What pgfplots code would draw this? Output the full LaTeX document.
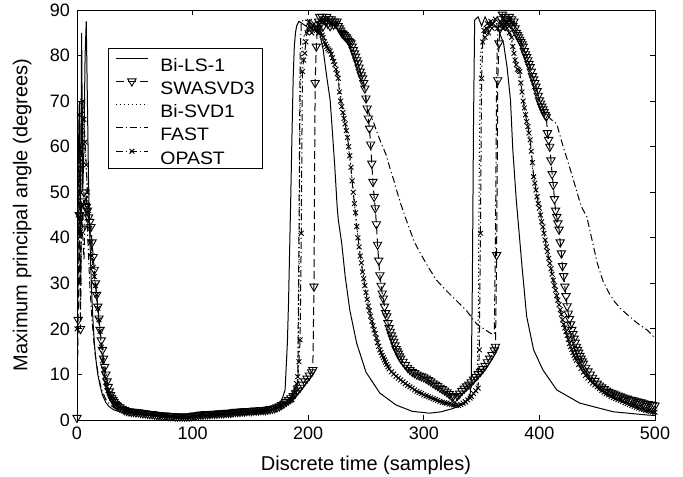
\documentclass[border=0pt]{standalone}
\usepackage{fontspec}
\setmainfont{Liberation Sans}
\usepackage{graphicx}
\usepackage{pgfplots}
\pgfplotsset{compat=1.18}
\newcommand{\legtxt}[1]{\scalebox{1.08}[1]{#1}}
\begin{document}
\begin{tikzpicture}
\useasboundingbox (-38.5pt,-28pt) rectangle (303pt,210pt);
\begin{axis}[
  at={(0,0)}, anchor=south west,
  scale only axis, width=289pt, height=205pt,
  xmin=0, xmax=500, ymin=0, ymax=90,
  xtick={0,100,...,500}, ytick={0,10,...,90},
  tick align=inside, major tick length=2.5pt,
  tick style={line width=0.4pt, black},
  axis line style={line width=0.5pt},
  /pgf/number format/assume math mode=true,
  tick label style={font=\fontsize{9}{10}\selectfont},
  label style={font=\fontsize{10}{12}\selectfont},
  xlabel={Discrete time (samples)},
  ylabel={Maximum principal angle (degrees)},
  xlabel style={at={(axis description cs:0.5,-0.11)}, anchor=center},
  ylabel style={at={(axis description cs:-0.095,0.5)}, anchor=center},
  legend cell align=left,
  legend style={at={(axis description cs:0.0536,0.9085)}, anchor=north west,
    font=\fontsize{9}{9}\selectfont, draw=black, line width=0.4pt,
    nodes={inner ysep=0pt, inner xsep=0.5pt, text height=6.6pt, text depth=0pt},
    row sep=2.1pt, inner xsep=3.5pt, inner ysep=2pt},
  legend image code/.code={\path (0pt,0pt) (21.5pt,6pt);
     \draw[#1] (0pt,3.2pt) -- (16pt,3.2pt);
     \draw[#1, only marks] plot coordinates {(8pt,3.2pt)};},
]
% Bi-LS-1
\addplot[black, line width=0.5pt, mark=none] coordinates {
(0,30) (1,55) (2,70) (3,40) (4,85) (5,50) (6,60) (7,80) (8,87.5) (9,70) (10,52) (11,41) (12,33) (13,26) (14,21) (15,17) (16,14) (18,10) (20,7.5) (22,5.5) (25,3.8) (28,2.9) (32,2.2) (40,1.6) (50,1.2) (60,1.0) (80,0.8) (100,0.8) (120,1.2) (140,1.4) (160,1.8) (170,2.3) (175,3.5) (178,5) (180,6.6) (182,17) (183,26) (184,38) (185,50) (186,63) (187,75) (188,82) (189,85) (190,86.5) (192,87.5) (195,87) (198,86.5) (200,87) (203,86) (206,85.5) (208,85) (210,84.8) (213,81.2) (216,75.4) (219,70.2) (221,63) (223,55.6) (225,47) (226,44) (229,38.8) (232,31.5) (236,24.1) (242,16.8) (250,10.5) (262,5.9) (276,3.3) (290,1.9) (305,1.5) (315,1.8) (325,2.5) (335,3.5) (340,5.5) (341,8) (342,30) (343,65) (344,87.8) (347,88.5) (350,86.5) (353,88.5) (356,87) (360,86.5) (364,86) (367,84) (369,82.7) (372,77.5) (375,70.2) (377,59.3) (380,48.3) (385,33.6) (389,22.7) (395,15.4) (403,11) (415,6.6) (435,3.7) (464,1.8) (493,1.1) (500,1.0)
};
\addlegendentry{\legtxt{Bi-LS-1}}
% SWASVD3
\addplot[black, line width=0.5pt, dash pattern=on 4pt off 2pt, mark=triangle, mark size=2.4pt, mark options={solid, rotate=180, line width=0.45pt}] coordinates {
(0,0.5) (1,22) (2,45) (3,20) (4,48) (5,42) (6,50) (7,47) (8,46.8) (9,46) (10,44.5) (11,43.5) (12,42.4) (13,39) (14,35.8) (15,33) (16,30) (17,27.5) (18,24.9) (19,22.3) (20,19.8) (21,17.5) (22,15.4) (23,13.5) (24,11.7) (25,10) (26,8.5) (27,7.3) (28,6.3) (29,5.5) (30,4.9) (31,4.4) (32,4) (33,3.6) (34,3.3) (35,3.1) (37,2.8) (39,2.5) (41,2.2) (43,2.0)
(45,1.9) (47,1.8) (49,1.8) (51,1.7) (53,1.7) (55,1.6) (57,1.5) (59,1.5) (61,1.4) (63,1.3) (65,1.3) (67,1.2) (69,1.1) (71,1.1) (73,1.0) (75,1.0) (77,1.0) (79,0.9) (81,0.9) (83,0.9) (85,0.8) (87,0.8) (89,0.8) (91,0.8) (93,0.8) (95,0.8) (97,0.8) (99,0.9) (101,1.0) (103,1.0) (105,1.1) (107,1.2) (109,1.2) (111,1.3) (113,1.3) (115,1.3) (117,1.4) (119,1.4) (121,1.4) (123,1.5) (125,1.5) (127,1.5) (129,1.6) (131,1.6) (133,1.6) (135,1.7) (137,1.8) (139,1.8) (141,1.8) (143,1.9) (145,1.9) (147,2.0) (149,2.0) (151,2.0) (153,2.1) (155,2.1) (157,2.1) (159,2.2) (161,2.2) (163,2.2) (165,2.3) (167,2.4) (169,2.5) (171,2.6) (173,2.8) (175,3.0) (177,3.3) (179,3.6) (181,4.0) (183,4.4) (185,4.8) (187,5.3) (189,5.9) (191,6.5) (193,7.1) (195,7.8) (197,8.5) (199,9.1) (201,9.8) (203,10.5) (204,11)
(205,29.3) (206,74) (207,82) (208,86) (209,87.5) (210,88.5) (211,87) (212,88.5) (213,86.5) (214,88) (215,87.5) (216,88.5) (217,87) (218,88) (219,86.5) (220,88) (221,87.5) (222,86.8) (223,87.5) (224,87) (225,87.5) (226,86.5) (227,86) (228,85.5) (229,85) (230,84.8) (231,84.5) (232,84.2) (233,84) (234,83.6) (235,83.2) (236,83) (237,82.7) (238,82) (239,81.2) (240,80.5) (241,79.8) (242,79) (243,78.3) (244,77.4) (245,76.5) (246,75.7) (247,75) (248,74) (249,72.8) (250,70.6) (251,68.4) (252,66.2) (253,64) (254,60.5) (255,56.3) (256,52.3) (257,49) (258,46.5) (259,43) (260,38.5) (261,35) (262,31.8) (263,29.5) (264,27.8) (265,26.7) (266,24.9) (267,23.5) (268,22.8) (269,21.3) (270,20.2) (271,19.4) (272,18.6) (273,17.9) (274,17.2) (275,16.4) (276,15.6) (277,15.1) (278,14.6) (279,14) (280,13.5) (282,12.8) (284,12.1) (286,11.5) (288,11) (290,10.6) (292,10.3) (294,10) (296,9.8) (298,9.6) (300,9.4) (302,9.1) (304,8.8) (306,8.5) (308,8.1) (310,7.8) (312,7.5) (314,7.1) (316,6.8) (318,6.5) (320,6.1) (322,5.7) (324,5.3) (325,5.1) (327,4.8) (329,5.3) (331,5.8) (333,6.4) (335,6.9) (337,7.4) (339,7.8) (341,8.3) (343,8.9) (345,9.5) (347,10.1) (349,10.6) (351,11.2) (353,11.9) (355,12.7) (357,13.5) (359,14.3) (361,15.3) (362,16.1)
(363,36.2) (364,74.6) (365,82.7) (366,86) (367,88) (368,89) (369,87) (370,88.5) (371,86.5) (372,88) (373,87.5) (374,88.5) (375,87) (376,88) (377,86.5) (378,87.5) (379,86) (380,85) (381,84.5) (382,84) (383,83.5) (384,83) (385,82.5) (386,82) (387,81) (388,80.3) (389,79.7) (390,79) (391,78.2) (392,77.5) (393,76.5) (394,75.5) (395,74.8) (396,74) (397,73.2) (398,72.2) (399,71.2) (400,70.2) (401,69.5) (402,68.8) (403,68.2) (404,67.6) (405,67) (406,66.6) (407,63) (408,61.5) (409,60) (410,57) (411,54) (412,51.6) (413,48.5) (414,46) (415,44.6) (416,43.2) (417,41.8) (418,39) (419,36.6) (420,33.8) (421,31.6) (422,29.3) (423,27.2) (424,25) (425,23.4) (426,22.2) (427,21) (428,19.8) (429,18.9) (430,17.9) (431,17) (432,16.1) (433,15.4) (434,14.8) (435,14.1) (436,13.5) (437,12.9) (438,12.4) (440,11.5) (442,10.7) (444,10) (446,9.3) (448,8.6) (450,8) (452,7.6) (454,7.2) (456,6.8) (458,6.5) (460,6.2) (462,6) (464,5.8) (466,5.6) (468,5.4) (470,5.2) (472,5.0) (474,4.8) (476,4.7) (478,4.5) (480,4.4) (482,4.3) (484,4.1) (486,4.0) (488,3.9) (490,3.7) (492,3.6) (494,3.5) (496,3.4) (498,3.3) (500,3.2)
};
\addlegendentry{\legtxt{SWASVD3}}
% Bi-SVD1
\addplot[black, line width=0.5pt, dash pattern=on 0.6pt off 1.4pt, mark=none] coordinates {
(0,15) (1,40) (2,60) (3,45) (4,65) (5,68) (6,62) (8,55) (10,45) (12,38) (14,33) (16,29) (18,24) (20,19) (22,13.5) (24,9.8) (27,6.8) (30,5) (35,3.3) (40,2.5) (50,1.8) (70,1.3) (100,1.0) (130,1.3) (160,1.9) (175,2.6) (185,4.3) (190,7.5) (191,9) (192,30) (193,70) (194,80) (196,84) (200,86.5) (205,87) (210,85.5) (214,83.5) (218,81.3) (222,78.7) (226,75) (230,67.5) (234,62) (238,52.5) (242,42.5) (246,34.5) (250,28) (254,22.8) (258,19) (262,15.4) (270,11.2) (280,8.8) (290,7) (300,5.5) (310,4.5) (320,3.7) (330,3.1) (338,4.3) (344,6.1) (346,6.8) (347,20) (348,55) (349,80) (352,85) (360,87) (370,87) (375,84.5) (380,78) (385,72) (390,64.4) (395,53.4) (400,46.5) (405,39.5) (410,33.2) (415,27.3) (420,22) (425,17.7) (430,14.2) (440,9.8) (450,7.3) (460,5.5) (470,4.3) (480,3.2) (490,2.2) (500,1.7)
};
\addlegendentry{\legtxt{Bi-SVD1}}
% FAST
\addplot[black, line width=0.5pt, dash pattern=on 3.5pt off 1.5pt on 0.6pt off 1.5pt, mark=none] coordinates {
(0,0) (1,38) (2,55) (3,25) (4,45) (5,40) (6,35) (7,45) (8,50) (9,42) (10,36) (11,30) (12,26) (13,22) (14,19) (15,16) (16,14) (18,10.5) (20,8) (22,6.2) (25,4.5) (28,3.5) (32,2.7) (36,2.2) (40,1.9) (50,1.5) (60,1.3) (80,1.0) (100,0.9) (120,1.2) (140,1.5) (160,1.9) (170,2.3) (180,3.5) (185,5) (188,6.5) (191,8.5) (192,40) (193,80) (194,87) (196,88) (200,87.5) (205,88) (210,87) (215,88) (220,87) (225,86) (230,84.5) (235,83) (240,80.5) (245,76.5) (248,74) (250,70) (253,67) (256,65.8) (259,63.5) (262,61.5) (265,59.7) (268,57.8) (271,55) (274,52.7) (277,50) (279,48.3) (282,46) (285,43.8) (288,41.7) (292,39) (297,36.6) (304,33.5) (311,30.7) (318,28.8) (325,27) (331,25.5) (337,24) (342,22.3) (346,21) (352,20) (358,19) (361,18.8) (362,40) (363,75) (364,86) (366,88) (370,87.5) (375,88) (380,86) (385,82.5) (390,79) (395,74.8) (400,70.5) (405,67.5) (410,66) (415,65) (420,60.5) (426,55.6) (432,50.5) (436,47) (441,44.6) (446,39) (450,34.5) (455,30.5) (460,28) (465,26) (470,24.5) (478,22.7) (485,21.2) (493,19.8) (500,18)
};
\addlegendentry{\legtxt{FAST}}
% OPAST
\addplot[black, line width=0.5pt, dash pattern=on 3.5pt off 1.5pt on 0.6pt off 1.5pt, mark=x, mark size=1.7pt, mark options={solid, line width=0.45pt}] coordinates {
(0,20) (1,45) (2,67) (3,50) (4,60) (5,70) (6,66) (7,61) (8,56) (9,50) (10,46) (11,42) (12,39) (13,36) (14,33.5) (15,31.5) (16,29.5) (17,27.5) (18,24.5) (19,22) (20,19.5) (21,16) (22,13) (23,11) (24,9.5) (25,8.3) (26,7.3) (27,6.5) (28,5.9) (29,5.3) (30,4.8) (31,4.4) (32,4) (33,3.7) (34,3.4) (35,3.2) (37,2.9) (39,2.6) (41,2.4) (43,2.2)
(45,2.0) (47,1.9) (49,1.9) (51,1.8) (53,1.8) (55,1.7) (57,1.6) (59,1.6) (61,1.5) (63,1.4) (65,1.4) (67,1.3) (69,1.2) (71,1.2) (73,1.1) (75,1.0) (77,1.0) (79,1.0) (81,0.9) (83,0.9) (85,0.9) (87,0.8) (89,0.8) (91,0.8) (93,0.7) (95,0.7) (97,0.7) (99,0.8) (101,0.9) (103,0.9) (105,1.0) (107,1.1) (109,1.1) (111,1.1) (113,1.2) (115,1.2) (117,1.2) (119,1.3) (121,1.3) (123,1.3) (125,1.4) (127,1.4) (129,1.4) (131,1.5) (133,1.5) (135,1.5) (137,1.6) (139,1.6) (141,1.6) (143,1.7) (145,1.7) (147,1.7) (149,1.8) (151,1.8) (153,1.8) (155,1.9) (157,1.9) (159,1.9) (161,2.0) (163,2.0) (165,2.1) (167,2.2) (169,2.4) (171,2.5) (173,2.7) (175,2.9) (177,3.2) (179,3.5) (181,3.7) (183,4.0) (185,4.3) (186,4.5) (187,5.2) (188,6) (189,7) (190,8)
(191,9.5) (192,12.8) (193,17.6) (194,41) (195,76.5) (196,79) (197,80.5) (198,83) (199,85) (200,86) (201,87.5) (202,86) (203,85) (204,86.5) (205,87) (206,86) (207,85.5) (208,86) (209,85) (210,86) (211,85) (212,84.5) (213,84) (214,83) (215,82.5) (216,82) (217,81.5) (218,81.2) (219,81) (220,80.3) (221,79.5) (222,78.7) (223,78) (224,77) (225,76) (226,75) (227,72) (228,70) (229,68.8) (230,67.5) (231,66.2) (232,65) (233,63.5) (234,62) (235,60) (236,58) (237,55.5) (238,52.5) (239,50) (240,47.5) (241,45.5) (242,42.5) (243,40) (244,38) (245,36) (246,34.5) (247,32.5) (248,31) (249,29.5) (250,28) (251,26.5) (252,25) (253,24) (254,22.8) (255,21.7) (256,20.7) (257,19.8) (258,19) (259,18) (260,17) (261,16.2) (262,15.4) (263,14.8) (264,14.2) (265,13.7) (266,13.2) (267,12.7) (268,12.2) (269,11.7) (270,11.2) (272,10.6) (274,10.1) (276,9.6) (278,9.2) (280,8.8) (282,8.4) (284,8) (286,7.6) (288,7.3) (290,7) (292,6.6) (294,6.3) (296,6) (298,5.8) (300,5.5) (302,5.3) (304,5.1) (306,4.9) (308,4.7) (310,4.5) (312,4.3) (314,4.1) (316,3.9) (318,3.8) (320,3.7) (322,3.5) (324,3.4) (326,3.3) (328,3.2) (330,3.2) (332,3.4) (334,3.7) (336,4.0) (338,4.4) (340,4.8) (341,5.2) (343,5.8) (345,6.4) (347,7)
(348,15.4) (349,41) (350,75) (351,83) (352,85.5) (353,84) (354,86) (355,87) (356,85) (357,86.5) (358,87.5) (359,86) (360,87) (362,88) (364,86) (366,87.5) (368,86) (370,87) (372,86) (374,85) (376,84) (377,82) (378,80.5) (379,79) (380,78) (381,77) (382,76.8) (383,76.5) (384,74) (385,72) (386,70) (387,68.5) (388,67) (389,65.5) (390,64.4) (391,63) (392,61.5) (393,59) (394,56.5) (395,53.4) (396,52) (397,50.5) (398,49) (399,47.5) (400,46.5) (401,45) (402,43.5) (403,42.4) (404,41) (405,39.5) (406,38) (407,37) (408,35.5) (409,34.4) (410,33.2) (411,32) (412,30.7) (413,29.5) (414,28.5) (415,27.3) (416,26.3) (417,25.3) (418,24.2) (419,23.2) (420,22) (421,21) (422,20.2) (423,19.4) (424,18.6) (425,17.7) (426,16.8) (427,16.1) (428,15.5) (429,14.8) (430,14.2) (431,13.6) (432,13.1) (434,12.2) (436,11.3) (438,10.5) (440,9.8) (442,9.2) (444,8.6) (446,8.1) (448,7.7) (450,7.3) (452,6.9) (454,6.5) (456,6.1) (458,5.8) (460,5.5) (462,5.2) (464,4.9) (466,4.7) (468,4.5) (470,4.3) (472,4.1) (474,3.8) (476,3.6) (478,3.4) (480,3.2) (482,3.0) (484,2.8) (486,2.6) (488,2.4) (490,2.3) (492,2.1) (494,2.0) (496,1.9) (498,1.8) (500,1.7)
};
\addlegendentry{\legtxt{OPAST}}
\end{axis}
\end{tikzpicture}
\end{document}
